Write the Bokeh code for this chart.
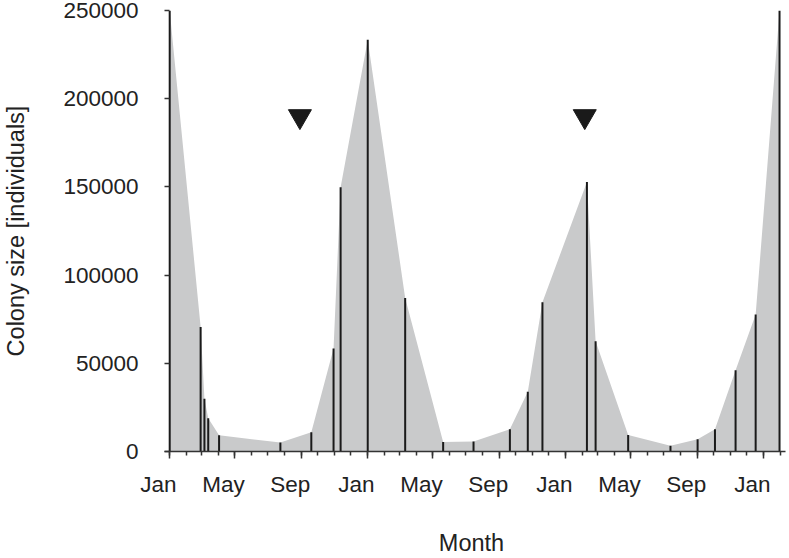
from bokeh.plotting import figure
from bokeh.models import FixedTicker, LinearAxis, Range1d
from bokeh.embed import file_html
from bokeh.resources import INLINE

# ---- data (x = days since 1 January of the first year) ----
sample_day = [0, 57, 64, 71, 91, 204, 261, 302, 315, 365, 434, 504, 560,
              627, 660, 687, 769, 785, 845, 923, 973, 1005, 1043, 1080, 1124]
colony_size = [250000, 70600, 29900, 18800, 9200, 5100, 10900, 58400, 149800,
               233400, 87000, 5400, 5600, 12600, 33900, 84600, 152800, 62500,
               9400, 3200, 7000, 12600, 46100, 77600, 250000]
marker_day = [240, 765]
marker_size = [190000, 190000]

month_names = ["Jan", "May", "Sep", "Jan", "May", "Sep", "Jan", "May", "Sep", "Jan"]
y_ticks = [0, 50000, 100000, 150000, 200000, 250000]
y_tick_labels = ["0", "50000", "100000", "150000", "200000", "250000"]
month_len = [31, 28, 31, 30, 31, 30, 31, 31, 30, 31, 30, 31]

# month boundaries (calendar)
month_start = [0]
for _yr in range(3):
    for m in month_len:
        month_start.append(month_start[-1] + m)
month_start.append(month_start[-1] + 31)
major_ticks = month_start[0:37:4]
label_x = [d - 21 for d in major_ticks]

FONT = "Liberation Sans"
TXT = "#222222"
AX = "#333333"

p = figure(width=789, height=558, output_backend="svg", toolbar_location=None,
           x_range=Range1d(-22.5, 1135), y_range=Range1d(0, 250000),
           min_border_left=156, min_border_right=4, min_border_top=10,
           min_border_bottom=106)
p.outline_line_color = None
p.grid.visible = False

p.varea(x=sample_day, y1=0, y2=colony_size, fill_color="#c9cacb")
p.segment(x0=sample_day, y0=[0] * len(sample_day), x1=sample_day, y1=colony_size,
          line_color="#1a1a1a", line_width=2)
p.scatter(x=marker_day, y=marker_size, marker="inverted_triangle", size=23,
          fill_color="#1a1a1a", line_color="#1a1a1a")

# y axis: its ticks are pulled in so that they end at the first day
ya = p.yaxis[0]
ya.ticker = FixedTicker(ticks=y_ticks)
ya.major_label_overrides = {t: s for t, s in zip(y_ticks, y_tick_labels)}
ya.axis_line_color = None
ya.major_tick_line_color = AX
ya.major_tick_line_width = 1.5
ya.major_tick_in = 12
ya.major_tick_out = -7
ya.minor_tick_line_color = None
ya.minor_tick_in = 0
ya.minor_tick_out = 0
ya.major_label_standoff = 19
ya.major_label_text_font = FONT
ya.major_label_text_font_size = "22.5px"
ya.major_label_text_color = TXT
ya.axis_label = "Colony size [individuals]"
ya.axis_label_text_font = FONT
ya.axis_label_text_font_size = "23.5px"
ya.axis_label_text_font_style = "normal"
ya.axis_label_text_color = TXT
ya.axis_label_standoff = 31

# x axis: tick marks only (next to the frame)
xa = p.xaxis[0]
xa.ticker = FixedTicker(ticks=major_ticks, minor_ticks=month_start)
xa.bounds = (-9.2, 1135)
xa.axis_line_color = AX
xa.axis_line_width = 1.5
xa.major_tick_line_color = AX
xa.major_tick_line_width = 1.5
xa.major_tick_out = 7
xa.major_tick_in = 0
xa.minor_tick_line_color = AX
xa.minor_tick_line_width = 1.5
xa.minor_tick_out = 4
xa.minor_tick_in = 0
xa.major_label_standoff = 0
xa.major_label_text_font_size = "1px"
xa.major_label_text_color = None

# x axis: month labels (below the tick axis)
xl = LinearAxis(ticker=FixedTicker(ticks=label_x, minor_ticks=[]),
                major_label_overrides={d: s for d, s in zip(label_x, month_names)})
xl.axis_line_color = None
xl.major_tick_line_color = None
xl.minor_tick_line_color = None
xl.major_tick_out = 0
xl.major_tick_in = 0
xl.minor_tick_out = 0
xl.minor_tick_in = 0
xl.major_label_standoff = 13
xl.major_label_text_font = FONT
xl.major_label_text_font_size = "22.5px"
xl.major_label_text_color = TXT
xl.axis_label = "Month"
xl.axis_label_text_font = FONT
xl.axis_label_text_font_size = "23.5px"
xl.axis_label_text_font_style = "normal"
xl.axis_label_text_color = TXT
xl.axis_label_standoff = 30
p.add_layout(xl, "below")

open("out.html", "w").write(file_html(p, INLINE))
